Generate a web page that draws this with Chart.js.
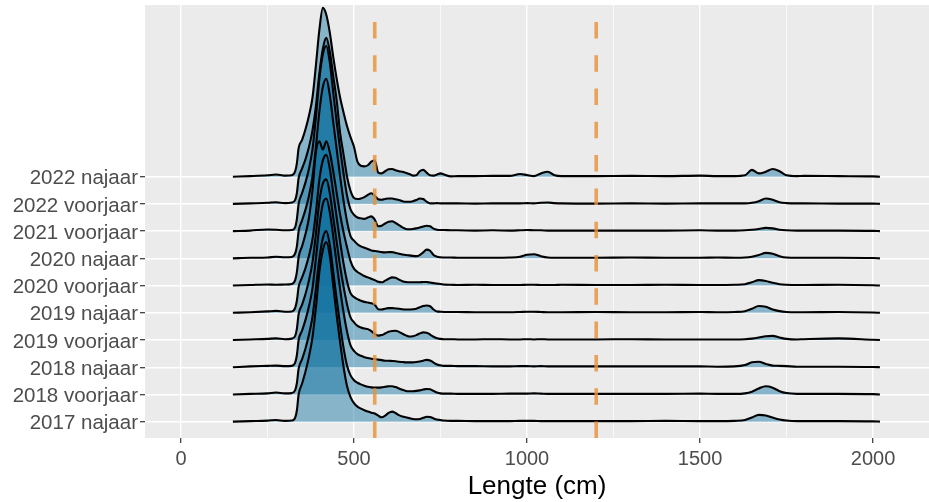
<!DOCTYPE html>
<html><head><meta charset="utf-8">
<script src="https://cdn.jsdelivr.net/npm/chart.js@4/dist/chart.umd.min.js"></script>
<style>html,body{margin:0;padding:0;background:#fff;overflow:hidden}</style>
</head><body>
<canvas id="c" width="929" height="502"></canvas>
<script>
// categories, bottom to top
const categories = ["2017 najaar","2018 voorjaar","2018 najaar","2019 voorjaar","2019 najaar","2020 voorjaar","2020 najaar","2021 voorjaar","2022 voorjaar","2022 najaar"];
// length grid (cm)
const xs = [150,200,250,275,300, 320,330,335,340,
  350,360,370,380,390,400,410,420,430,440,450,460,470,480,490,
  500,510,520,530,540,550,560,570,580,590,600,610,620,630,640,650,660,670,680,690,700,710,720,730,740,750,760,
  780,800,850,900,950,980, 1000,1020,1040,1060,1080,1100,
  1200,1300,1400,1500,1550,1600,1630, 1650,1670,1690,1710,1730,1750,1780,1800, 1900,2000,2020];
// ridge heights (in row units)
const s2017n = [0,0.02,0.04,0.06,0.03, 0.04,0.15,0.42,1.0,
  1.4,1.85,2.4,3.1,4.2,5.5,6.3,6.6,6.1,5.0,3.9,2.9,2.0,1.3,0.9,
  0.68,0.55,0.48,0.42,0.37,0.33,0.3,0.22,0.16,0.22,0.32,0.37,0.32,0.24,0.19,0.16,0.13,0.1,0.09,0.1,0.14,0.18,0.17,0.12,0.08,0.06,0.04,
  0.03,0.03,0.02,0.02,0.02,0.03, 0.03,0.03,0.02,0.02,0.02,0.02,
  0.02,0.02,0.03,0.02,0.02,0.03,0.06, 0.15,0.25,0.23,0.15,0.08,0.04,0.02,0.02, 0.02,0.01,0];
const s2018v = [0,0.02,0.04,0.07,0.04, 0.05,0.16,0.42,0.95,
  1.3,1.7,2.2,2.85,3.9,5.0,5.75,6.0,5.5,4.5,3.5,2.55,1.7,1.05,0.7,
  0.52,0.43,0.37,0.32,0.28,0.26,0.25,0.25,0.26,0.28,0.3,0.3,0.27,0.22,0.17,0.13,0.12,0.12,0.13,0.15,0.18,0.2,0.19,0.13,0.07,0.04,0.03,
  0.03,0.02,0.02,0.02,0.03,0.03, 0.03,0.04,0.03,0.02,0.02,0.02,
  0.02,0.02,0.02,0.03,0.02,0.02,0.04, 0.1,0.22,0.3,0.25,0.12,0.05,0.02,0.02, 0.02,0.01,0];
const s2018n = [0,0.03,0.05,0.06,0.04, 0.05,0.17,0.45,1.0,
  1.35,1.75,2.25,2.9,4.0,5.2,6.0,6.2,5.7,4.8,3.8,2.85,2.0,1.3,0.8,
  0.6,0.48,0.42,0.37,0.34,0.31,0.3,0.28,0.26,0.24,0.24,0.23,0.22,0.2,0.19,0.18,0.18,0.18,0.19,0.21,0.24,0.27,0.25,0.17,0.1,0.07,0.05,
  0.05,0.04,0.04,0.03,0.03,0.04, 0.04,0.03,0.04,0.03,0.03,0.03,
  0.03,0.03,0.03,0.03,0.02,0.03,0.08, 0.18,0.2,0.12,0.06,0.05,0.04,0.02,0.02, 0.02,0.01,0];
const s2019v = [0,0.02,0.04,0.06,0.03, 0.05,0.15,0.42,0.95,
  1.3,1.7,2.2,2.85,3.9,5.1,5.75,5.9,5.4,4.5,3.6,2.7,1.95,1.3,0.83,
  0.65,0.52,0.46,0.42,0.4,0.33,0.22,0.16,0.18,0.24,0.3,0.33,0.34,0.3,0.23,0.17,0.13,0.14,0.18,0.24,0.28,0.27,0.2,0.12,0.06,0.04,0.03,
  0.03,0.02,0.02,0.03,0.02,0.02, 0.03,0.02,0.03,0.02,0.02,0.02,
  0.02,0.03,0.02,0.02,0.02,0.02,0.03, 0.05,0.09,0.14,0.15,0.09,0.04,0.02,0.03, 0.06,0.01,0];
const s2019n = [0,0.02,0.05,0.07,0.04, 0.05,0.18,0.45,0.95,
  1.3,1.65,2.1,2.7,3.7,4.9,5.6,5.8,5.3,4.4,3.5,2.6,1.8,1.15,0.72,
  0.58,0.5,0.44,0.4,0.38,0.35,0.3,0.13,0.12,0.15,0.17,0.17,0.16,0.15,0.13,0.12,0.12,0.13,0.15,0.2,0.25,0.27,0.24,0.12,0.05,0.04,0.03,
  0.03,0.03,0.02,0.02,0.02,0.03, 0.04,0.04,0.03,0.02,0.02,0.02,
  0.03,0.02,0.02,0.03,0.02,0.03,0.06, 0.15,0.25,0.22,0.12,0.06,0.03,0.02,0.02, 0.03,0.01,0];
const s2020v = [0,0.02,0.04,0.03,0.04, 0.06,0.2,0.5,1.05,
  1.45,1.9,2.5,3.5,4.9,5.3,5.0,5.3,4.9,4.2,3.4,2.6,1.95,1.4,0.9,
  0.62,0.5,0.42,0.35,0.3,0.25,0.2,0.14,0.12,0.18,0.25,0.3,0.29,0.22,0.16,0.13,0.12,0.12,0.12,0.12,0.13,0.13,0.11,0.09,0.07,0.06,0.04,
  0.03,0.02,0.03,0.02,0.02,0.02, 0.03,0.03,0.02,0.02,0.02,0.03,
  0.02,0.02,0.03,0.02,0.02,0.03,0.05, 0.12,0.2,0.17,0.1,0.05,0.03,0.02,0.02, 0.03,0.01,0];
const s2020n = [0,0.02,0.03,0.06,0.04, 0.05,0.18,0.45,1.0,
  1.4,1.8,2.3,3.0,4.1,5.4,6.3,6.6,6.0,5.0,4.0,3.0,2.1,1.35,0.82,
  0.65,0.52,0.44,0.39,0.34,0.29,0.27,0.25,0.23,0.22,0.23,0.23,0.2,0.17,0.14,0.12,0.11,0.09,0.08,0.12,0.22,0.32,0.28,0.12,0.06,0.04,0.03,
  0.03,0.02,0.02,0.02,0.03,0.06, 0.13,0.15,0.08,0.03,0.02,0.02,
  0.02,0.03,0.02,0.02,0.03,0.02,0.03, 0.06,0.12,0.2,0.17,0.08,0.03,0.02,0.02, 0.02,0.01,0];
const s2021v = [0,0.02,0.06,0.05,0.03, 0.04,0.15,0.45,1.0,
  1.4,1.8,2.3,3.0,4.2,5.6,6.5,6.8,6.2,5.1,4.0,3.0,2.1,1.3,0.8,
  0.6,0.5,0.47,0.45,0.5,0.54,0.42,0.18,0.2,0.28,0.34,0.36,0.3,0.22,0.14,0.08,0.07,0.08,0.1,0.13,0.17,0.2,0.18,0.09,0.05,0.04,0.04,
  0.03,0.03,0.02,0.03,0.02,0.03, 0.04,0.03,0.03,0.02,0.02,0.02,
  0.02,0.02,0.02,0.03,0.02,0.02,0.03, 0.05,0.08,0.12,0.1,0.05,0.03,0.02,0.02, 0.02,0.01,0];
const s2022v = [0,0.02,0.04,0.06,0.03, 0.05,0.15,0.4,0.95,
  1.3,1.65,2.1,2.7,3.6,4.8,5.7,6.1,5.6,4.7,3.8,2.6,1.8,1.0,0.48,
  0.22,0.18,0.2,0.25,0.33,0.39,0.3,0.17,0.15,0.18,0.2,0.2,0.17,0.14,0.1,0.08,0.08,0.1,0.14,0.2,0.18,0.08,0.02,0.02,0.03,0.02,0.02,
  0.02,0.02,0.01,0.02,0.02,0.02, 0.03,0.02,0.04,0.05,0.03,0.02,
  0.01,0.02,0.01,0.02,0.02,0.02,0.02, 0.04,0.1,0.2,0.15,0.06,0.03,0.02,0.02, 0.01,0.01,0];
const s2022n = [0,0.02,0.05,0.08,0.04, 0.05,0.2,0.5,1.05,
  1.35,1.75,2.25,2.9,4.1,5.4,6.2,5.95,5.3,4.4,3.6,2.9,2.35,1.85,1.45,
  1.1,0.55,0.4,0.38,0.42,0.55,0.6,0.15,0.12,0.2,0.27,0.28,0.24,0.2,0.18,0.14,0.1,0.04,0.05,0.2,0.25,0.15,0.05,0.04,0.08,0.12,0.08,
  0.01,0.02,0.02,0.03,0.03,0.1, 0.06,0.02,0.12,0.18,0.05,0.02,
  0.02,0.03,0.02,0.04,0.02,0.02,0.05, 0.25,0.12,0.18,0.28,0.2,0.05,0.02,0.03, 0.02,0.01,0];
const seriesList = [s2017n,s2018v,s2018n,s2019v,s2019n,s2020v,s2020n,s2021v,s2022v,s2022n];
const xTicks = [0,250,500,750,1000,1250,1500,1750,2000];
const cutoffs = [560, 1200];

const X_MIN = -104, X_MAX = 2161.8, Y_MIN = 0.4, Y_MAX = 16.307;

Chart.defaults.font.family = "'Liberation Sans', Arial, sans-serif";

const panelBg = {
  id: 'panelBg',
  beforeDraw(chart) {
    const {ctx, chartArea: a} = chart;
    ctx.save();
    ctx.fillStyle = '#EBEBEB';
    ctx.fillRect(a.left, a.top, a.right - a.left, a.bottom - a.top);
    ctx.restore();
  }
};

const datasets = seriesList.map((s, i) => ({
  label: categories[i],
  data: xs.map((x, j) => ({x: x, y: i + 1 + s[j]})),
  borderColor: '#000',
  borderWidth: 2.1,
  backgroundColor: 'rgba(16,112,160,0.45)',
  fill: {value: i + 1},
  pointRadius: 0,
  cubicInterpolationMode: 'monotone',
  order: i
}));
cutoffs.forEach(c => datasets.push({
  label: 'cut ' + c,
  data: [{x: c, y: Y_MIN}, {x: c, y: Y_MAX}],
  borderColor: 'rgba(230,145,56,0.82)',
  borderWidth: 3.6,
  borderDash: [16.5, 16.8],
  borderCapStyle: 'butt',
  pointRadius: 0,
  fill: false,
  order: -1
}));

const isMajor = v => v % 500 === 0;

new Chart(document.getElementById('c'), {
  type: 'line',
  data: {datasets},
  plugins: [panelBg],
  options: {
    responsive: false,
    animation: false,
    devicePixelRatio: 1,
    layout: {padding: {top: 5, right: 0, bottom: 0, left: 0}},
    plugins: {legend: {display: false}, tooltip: {enabled: false}},
    scales: {
      x: {
        type: 'linear', min: X_MIN, max: X_MAX,
        afterBuildTicks: s => { s.ticks = xTicks.map(v => ({value: v})); },
        afterFit: s => { s.height = 64; },
        border: {display: false},
        grid: {
          color: '#FFFFFF',
          lineWidth: c => (c.tick && isMajor(c.tick.value)) ? 1.4 : 0.7,
          tickColor: c => (c.tick && isMajor(c.tick.value)) ? '#333333' : 'rgba(0,0,0,0)',
          tickLength: 5, tickWidth: 1.2
        },
        ticks: {
          autoSkip: false, maxRotation: 0, minRotation: 0, padding: 4,
          color: '#4D4D4D', font: {size: 20},
          callback: v => isMajor(v) ? String(v) : ''
        },
        title: {display: true, text: 'Lengte (cm)', color: '#000', font: {size: 26}, padding: {top: 0, bottom: 0}}
      },
      y: {
        type: 'linear', min: Y_MIN, max: Y_MAX,
        afterBuildTicks: s => { s.ticks = categories.map((c, i) => ({value: i + 1})); },
        afterFit: s => { s.width = 145; },
        border: {display: false},
        grid: {color: '#FFFFFF', lineWidth: 1.4, tickColor: '#333333', tickLength: 5, tickWidth: 1.2},
        ticks: {
          autoSkip: false, padding: 2, labelOffset: 2, color: '#4D4D4D', font: {size: 20.5, lineHeight: 0.2},
          callback: v => categories[Math.round(v) - 1]
        }
      }
    }
  }
});
</script>
</body></html>
